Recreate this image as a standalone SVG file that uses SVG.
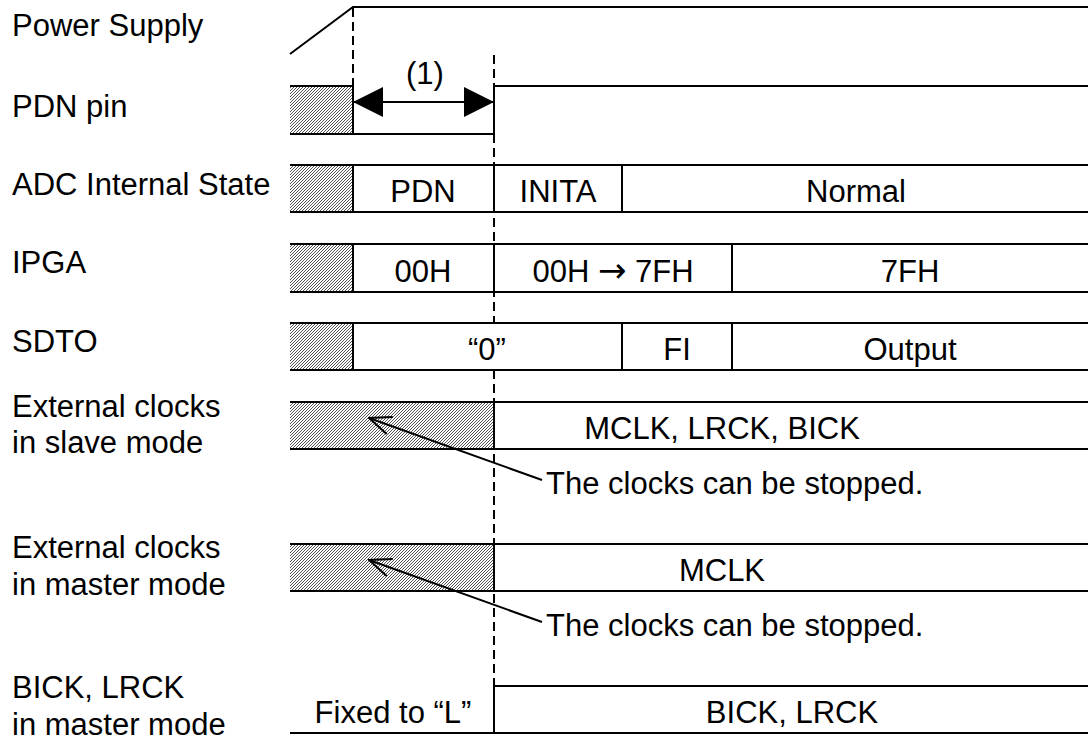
<svg xmlns="http://www.w3.org/2000/svg" width="1088" height="742" viewBox="0 0 1088 742">
<style>
text{font-family:"Liberation Sans",Arial,sans-serif;font-size:31px;fill:#000}
.c{text-anchor:middle}
.ln{stroke:#000;stroke-width:2;fill:none}
.dash{stroke:#000;stroke-width:2;fill:none;stroke-dasharray:9 5}
.h{fill:url(#hatch)}
.ar{font-family:"DejaVu Sans",sans-serif;font-size:34px}
</style>
<defs>
<pattern id="hatch" width="3" height="3" patternUnits="userSpaceOnUse">
<rect width="3" height="3" fill="#fff"/>
<path d="M-1,1 L1,-1 M0,3 L3,0 M2,4 L4,2" stroke="#333" stroke-width="0.85"/>
</pattern>
<marker id="fill" viewBox="0 0 30 30" refX="30" refY="15" markerWidth="30" markerHeight="30" markerUnits="userSpaceOnUse" orient="auto-start-reverse">
<path d="M0,0 L30,15 L0,30 Z" fill="#000"/>
</marker>
<marker id="open" viewBox="0 0 24 20" refX="23" refY="10" markerWidth="24" markerHeight="20" markerUnits="userSpaceOnUse" orient="auto">
<path d="M1,1 L23,10 L1,19" fill="none" stroke="#000" stroke-width="2"/>
</marker>
</defs>
<rect width="1088" height="742" fill="#fff"/>

<g id="power-supply">
<text x="12" y="36">Power Supply</text>
<path class="ln" d="M290,54 L353,7 L1088,7"/>
</g>

<g id="pdn-pin">
<text x="12" y="117">PDN pin</text>
<rect class="h" x="290" y="86" width="63" height="48"/>
<path class="ln" d="M290,86 L353,86 L353,134 M290,134 L494,134 L494,86 L1088,86"/>
<text class="c" x="425" y="84">(1)</text>
</g>

<g id="adc-state">
<text x="12" y="195">ADC Internal State</text>
<rect class="h" x="290" y="165" width="63" height="47"/>
<path class="ln" d="M290,165 L1088,165 M290,212 L1088,212 M353,165 L353,212 M494,165 L494,212 M622,165 L622,212"/>
<text class="c" x="423" y="202">PDN</text>
<text class="c" x="558" y="202">INITA</text>
<text class="c" x="856" y="202">Normal</text>
</g>

<g id="ipga">
<text x="12" y="273">IPGA</text>
<rect class="h" x="290" y="244" width="63" height="48"/>
<path class="ln" d="M290,244 L1088,244 M290,292 L1088,292 M353,244 L353,292 M494,244 L494,292 M732,244 L732,292"/>
<text class="c" x="423" y="282">00H</text>
<text class="c" x="613" y="282">00H <tspan class="ar">→</tspan> 7FH</text>
<text class="c" x="910" y="282">7FH</text>
</g>

<g id="sdto">
<text x="12" y="352">SDTO</text>
<rect class="h" x="290" y="323" width="63" height="47"/>
<path class="ln" d="M290,323 L1088,323 M290,370 L1088,370 M353,323 L353,370 M622,323 L622,370 M732,323 L732,370"/>
<text class="c" x="487" y="360">“0”</text>
<text class="c" x="677" y="360">FI</text>
<text class="c" x="910" y="360">Output</text>
</g>

<g id="ext-clk-slave">
<text x="12" y="417">External clocks</text>
<text x="12" y="453">in slave mode</text>
<rect class="h" x="290" y="402" width="204" height="47"/>
<path class="ln" d="M290,402 L1088,402 M290,449 L1088,449 M494,402 L494,449"/>
<text class="c" x="722" y="439">MCLK, LRCK, BICK</text>
<text x="546" y="494">The clocks can be stopped.</text>
</g>

<g id="ext-clk-master">
<text x="12" y="558">External clocks</text>
<text x="12" y="595">in master mode</text>
<rect class="h" x="290" y="544" width="204" height="47"/>
<path class="ln" d="M290,544 L1088,544 M290,591 L1088,591 M494,544 L494,591"/>
<text class="c" x="722" y="581">MCLK</text>
<text x="546" y="636">The clocks can be stopped.</text>
</g>

<g id="bick-lrck-master">
<text x="12" y="698">BICK, LRCK</text>
<text x="12" y="735">in master mode</text>
<path class="ln" d="M290,733 L1088,733 M494,733 L494,686 L1088,686"/>
<text class="c" x="393" y="723">Fixed to “L”</text>
<text class="c" x="792" y="723">BICK, LRCK</text>
</g>

<g id="connectors">
<path class="dash" d="M353,8 L353,86"/>
<path class="dash" d="M494,55 L494,86 M494,134 L494,323 M494,370 L494,686"/>
<path class="ln" d="M353,102 L494,102" marker-start="url(#fill)" marker-end="url(#fill)"/>
<path class="ln" d="M542,480 L369,418" marker-end="url(#open)"/>
<path class="ln" d="M542,622 L369,560" marker-end="url(#open)"/>
</g>
</svg>
